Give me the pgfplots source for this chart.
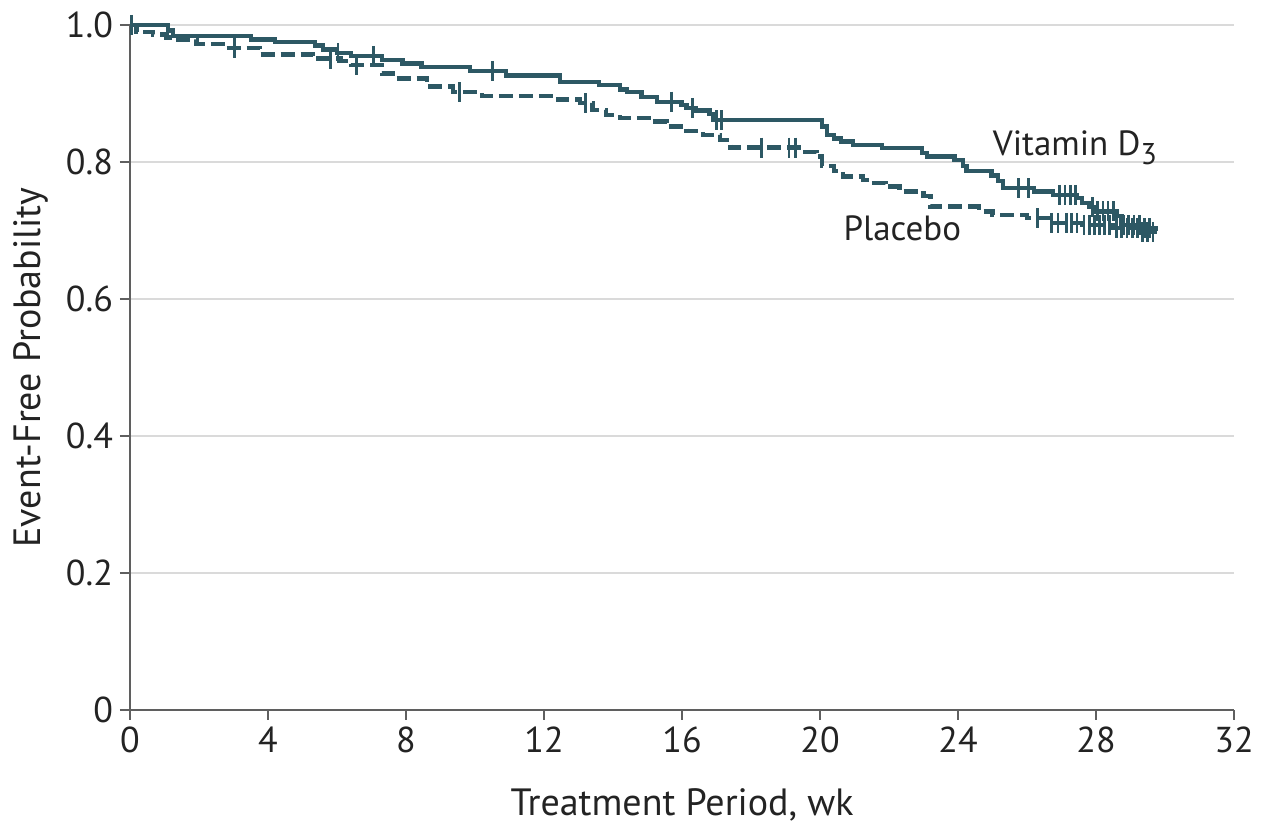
\documentclass[border=0pt]{standalone}
\usepackage{fontspec}
\setmainfont{PT Sans}
\usepackage{pgfplots}
\pgfplotsset{compat=1.18}
\definecolor{km}{RGB}{45,88,100}
\definecolor{gridc}{RGB}{218,218,218}
\definecolor{axc}{RGB}{95,95,95}
\definecolor{txt}{RGB}{35,35,35}
\newcommand{\tf}{\fontsize{18}{21}\selectfont}
\newcommand{\ff}{\fontsize{19}{22}\selectfont}
\newcommand{\nf}{\fontsize{17.5}{20}\selectfont}
\begin{document}
\begin{tikzpicture}
\begin{axis}[name=ax, scale only axis, width=552pt, height=342.5pt,
  xmin=0, xmax=32, ymin=0, ymax=1, clip=false,
  axis x line=bottom, axis y line=left,
  axis line style={axc, line width=1pt, -},
  xtick={0,4,8,12,16,20,24,28,32},
  ytick={0,0.2,0.4,0.6,0.8,1.0},
  yticklabels={0,0.2,0.4,0.6,0.8,1.0},
  xticklabels={0,4,8,12,16,20,24,28,32},
  /pgf/number format/assume math mode=true,
  tick style={axc, line width=1pt}, tick align=outside, major tick length=5pt,
  ymajorgrids, grid style={gridc, line width=1pt},
  ticklabel style={font=\tf, text=txt},
  xlabel={Treatment Period, wk}, ylabel={Event-Free Probability},
  every axis x label/.style={at={(axis description cs:0.5,0)}, anchor=base, yshift=-52.5pt, font=\ff, text=txt},
  every axis y label/.style={at={(axis description cs:0,0.5)}, rotate=90, anchor=base, yshift=44.5pt, font=\ff, text=txt},
]
% Placebo
\addplot[km, line width=2.2pt, const plot, dash pattern=on 7pt off 3pt] coordinates {
(0,1.000) (0.19,0.990) (0.67,0.986) (1.06,0.982) (1.4,0.979) (1.93,0.972) (2.8,0.966)
(3.77,0.957) (5.3,0.951) (6.1,0.947) (6.4,0.942) (7.3,0.929) (7.7,0.922) (8.6,0.910)
(9.37,0.902) (10.2,0.896) (12.4,0.891) (13.04,0.886) (13.4,0.876) (13.8,0.869) (14.2,0.864)
(15.17,0.859) (15.56,0.852) (16.13,0.845) (16.6,0.839) (17.1,0.832) (17.4,0.821) (19.5,0.815)
(19.9,0.808) (20.05,0.794) (20.4,0.787) (20.67,0.779) (21.25,0.774) (21.5,0.769) (21.9,0.764)
(22.3,0.757) (23.0,0.750) (23.2,0.735) (24.6,0.728) (25.0,0.723) (26.0,0.718) (26.67,0.711)
(27.6,0.708) (28.5,0.704) (29.3,0.698) (29.8,0.698)};
\addplot[km, only marks, mark=|, mark size=5pt, mark options={solid, line width=1.4pt}] coordinates {
(3.04,0.966) (5.8,0.951) (6.57,0.942) (9.56,0.902) (13.2,0.886) (18.3,0.821) (19.1,0.821) (19.3,0.821)
(26.3,0.718) (26.7,0.711) (26.9,0.711) (27.15,0.711) (27.3,0.711) (27.45,0.711)
(27.65,0.708) (27.8,0.708) (27.95,0.708) (28.1,0.708) (28.25,0.708) (28.4,0.708)
(28.6,0.704) (28.75,0.704) (28.9,0.704) (29.05,0.704) (29.2,0.704)
(29.35,0.698) (29.5,0.698) (29.65,0.698)};
% Vitamin D3
\addplot[km, line width=2.2pt, const plot] coordinates {
(0,1.000) (1.1,0.992) (1.25,0.984) (3.5,0.979) (4.2,0.975) (5.36,0.970) (5.6,0.964) (6.0,0.959)
(6.4,0.955) (7.3,0.949) (7.9,0.944) (8.45,0.939) (9.86,0.933) (10.9,0.926) (12.46,0.917)
(13.6,0.912) (14.2,0.906) (14.4,0.902) (14.83,0.895) (15.27,0.888) (15.99,0.883) (16.13,0.879)
(16.4,0.875) (16.8,0.870) (16.9,0.861) (20.05,0.852) (20.2,0.839) (20.4,0.834) (20.6,0.830)
(20.96,0.825) (21.8,0.820) (22.95,0.813) (23.1,0.808) (23.9,0.803) (24.15,0.794) (24.25,0.787)
(24.97,0.780) (25.16,0.772) (25.3,0.762) (26.2,0.757) (26.76,0.752) (27.44,0.747) (27.6,0.740)
(27.8,0.734) (28.0,0.728) (28.6,0.721) (28.74,0.708) (29.3,0.703) (29.8,0.703)};
\addplot[km, only marks, mark=|, mark size=5pt, mark options={solid, line width=1.4pt}] coordinates {
(0.05,1.0) (6.03,0.959) (7.05,0.955) (10.5,0.933) (15.7,0.888) (16.3,0.879) (17.0,0.861) (17.15,0.861)
(25.75,0.762) (26.04,0.762) (26.95,0.752) (27.1,0.752) (27.25,0.752) (27.4,0.752)
(27.9,0.734) (28.05,0.728) (28.2,0.728) (28.35,0.728) (28.5,0.728)
(28.8,0.708) (28.95,0.708) (29.1,0.708) (29.25,0.708)
(29.4,0.703) (29.55,0.703)};
\node[anchor=base west, inner sep=0pt, font=\nf, text=txt] at (axis cs:25.0,0.809) {Vitamin D\raisebox{-4.5pt}{\fontsize{15}{15}\selectfont 3}};
\node[anchor=base west, inner sep=0pt, font=\nf, text=txt] at (axis cs:20.67,0.686) {Placebo};
\end{axis}
\pgfresetboundingbox
\path[use as bounding box] ([shift={(-65pt,-58.5pt)}]ax.south west) rectangle ([shift={(18.5pt,12.5pt)}]ax.north east);
\end{tikzpicture}
\end{document}
